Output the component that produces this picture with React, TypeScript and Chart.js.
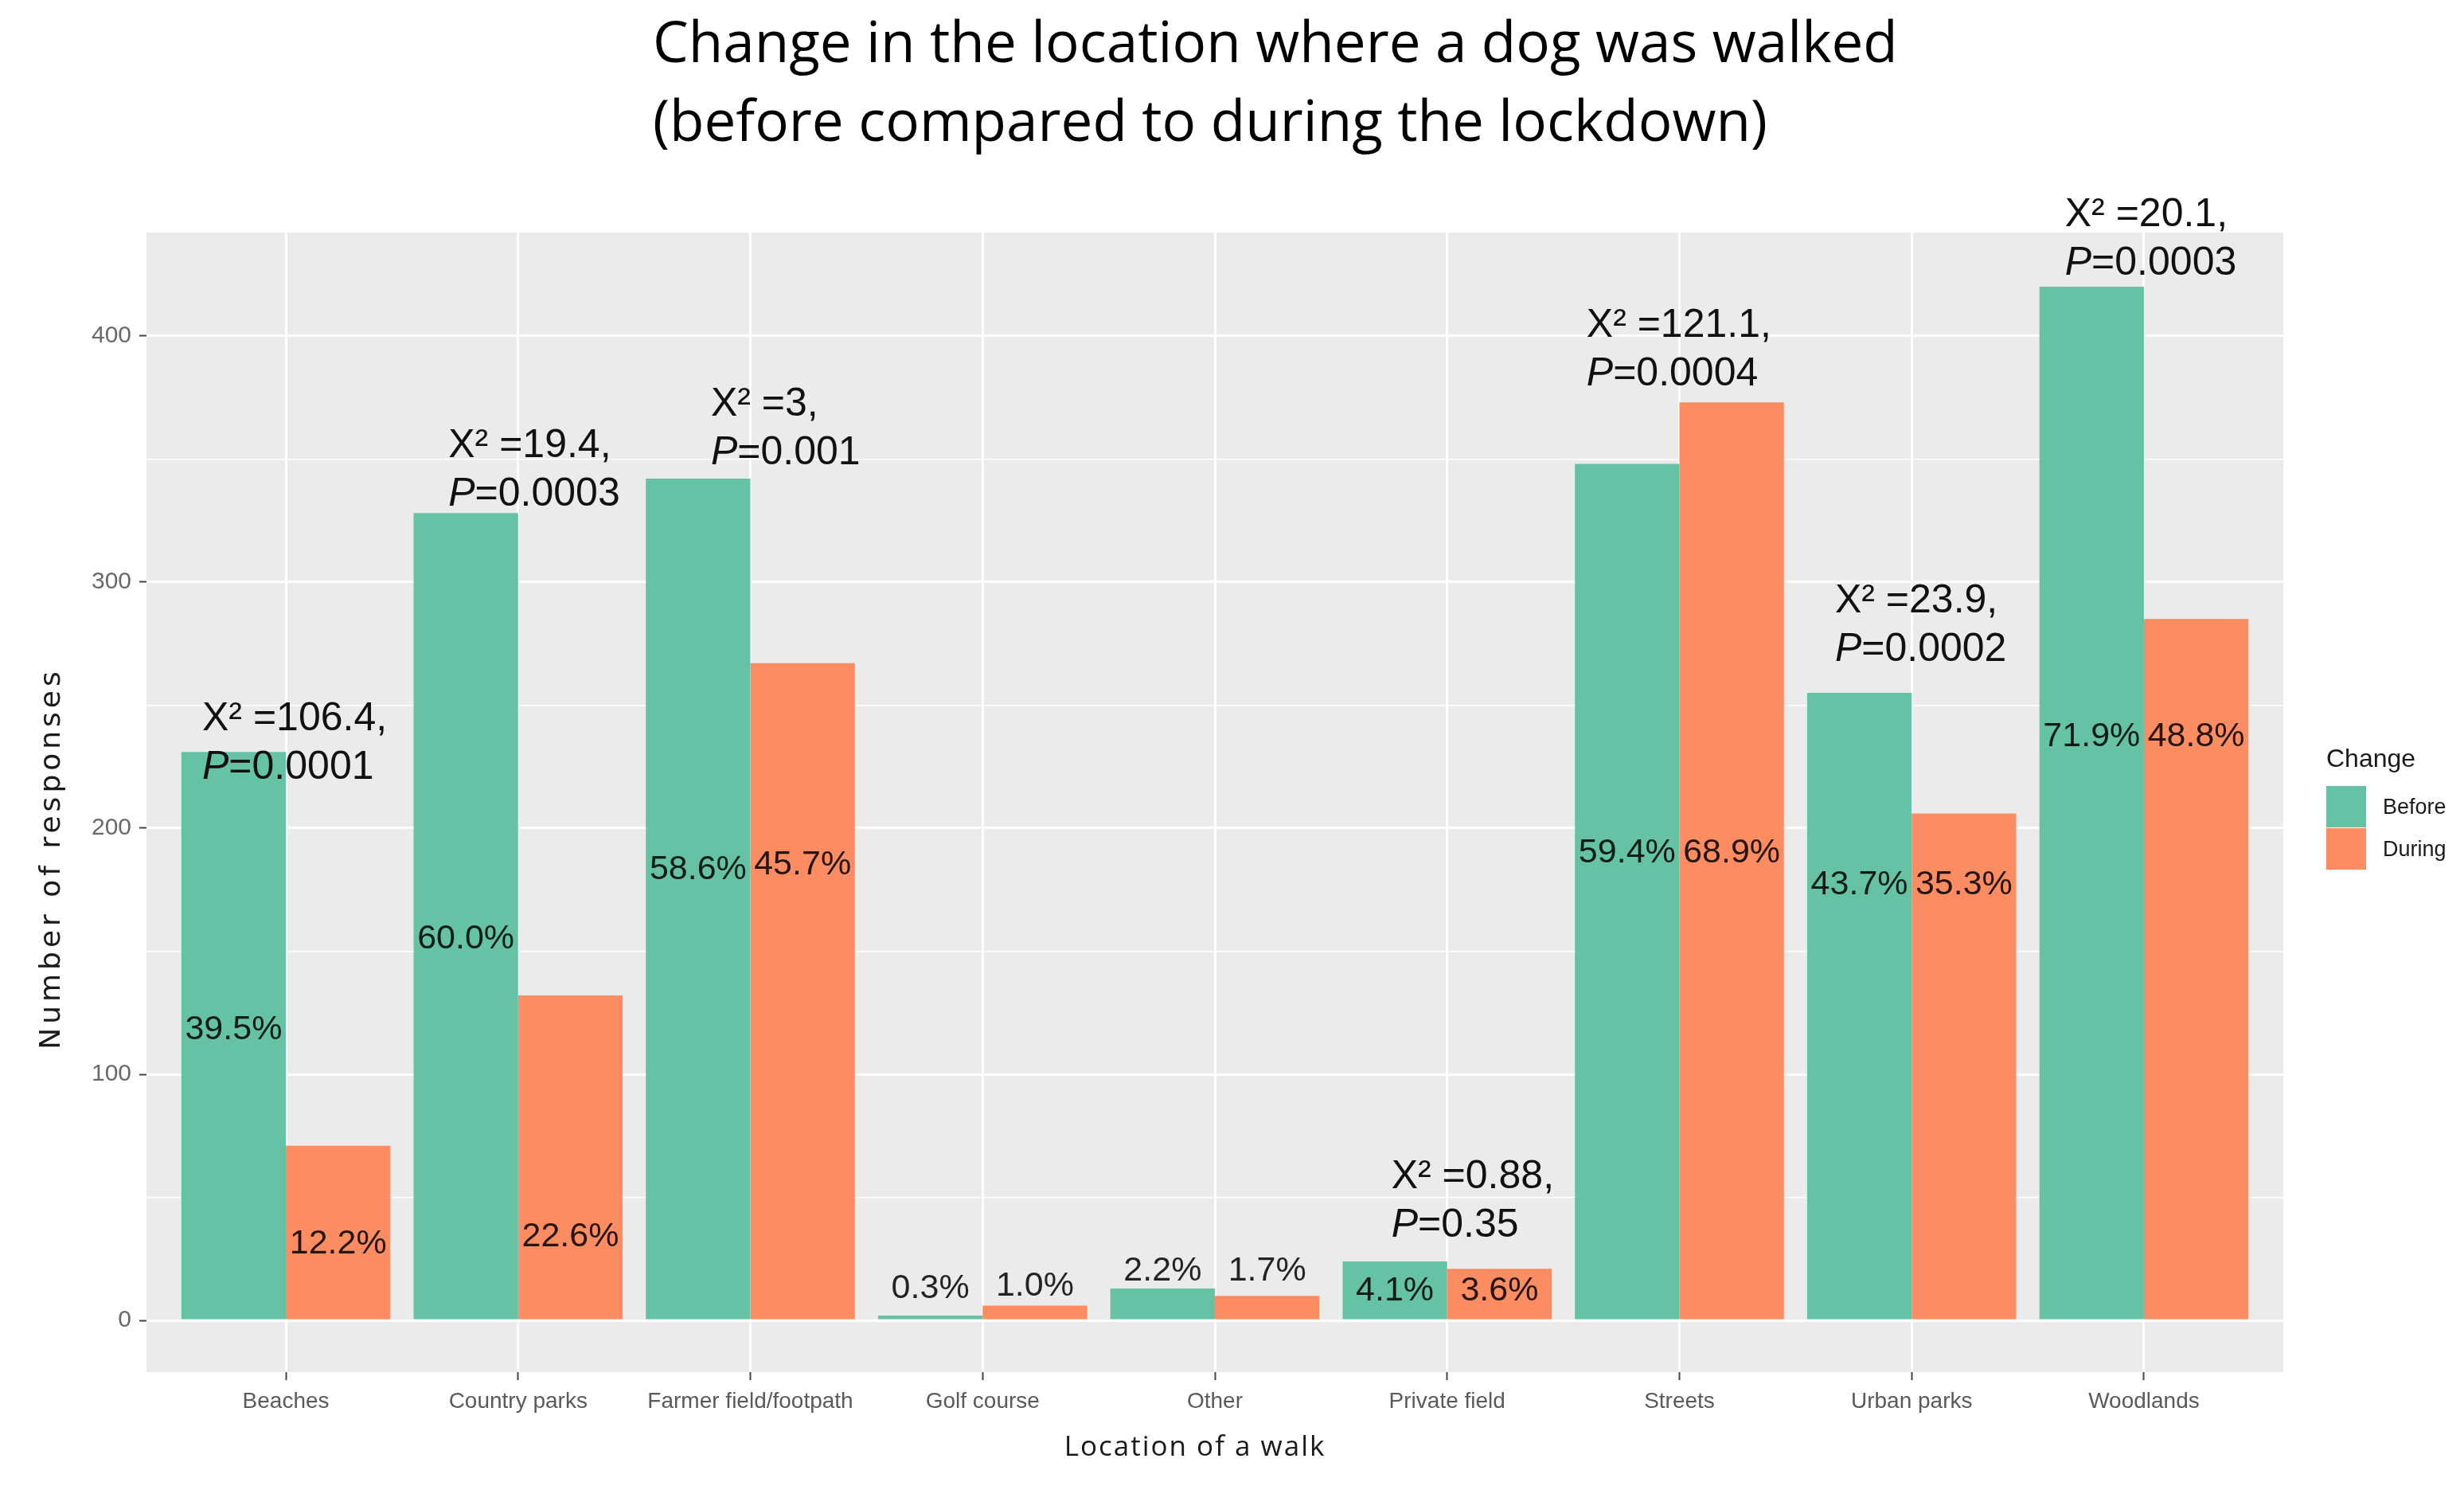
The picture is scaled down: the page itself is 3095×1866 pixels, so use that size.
import { useEffect, useRef } from 'react';
import { Chart, registerables } from 'chart.js';

Chart.register(...registerables);

const categories = [
  'Beaches',
  'Country parks',
  'Farmer field/footpath',
  'Golf course',
  'Other',
  'Private field',
  'Streets',
  'Urban parks',
  'Woodlands',
];

const seriesNames = ['Before', 'During'];
const beforeCounts = [231, 328, 342, 2, 13, 24, 348, 255, 420];
const duringCounts = [71, 132, 267, 6, 10, 21, 373, 206, 285];

const beforePct = ['39.5%', '60.0%', '58.6%', '0.3%', '2.2%', '4.1%', '59.4%', '43.7%', '71.9%'];
const duringPct = ['12.2%', '22.6%', '45.7%', '1.0%', '1.7%', '3.6%', '68.9%', '35.3%', '48.8%'];
// height (in responses) where each percentage label sits
const beforePctAt = [118, 155, 183, 13, 20, 12, 190, 177, 237];
const duringPctAt = [31, 34, 185, 14, 20, 12, 190, 177, 237];

const chiSquare = ['106.4', '19.4', '3', null, null, '0.88', '121.1', '23.9', '20.1'];
const pValues = ['0.0001', '0.0003', '0.001', null, null, '0.35', '0.0004', '0.0002', '0.0003'];
// baseline of the P line (in responses) and left shift (in categories)
const statAt = [220, 331, 348, null, null, 34, 380, 268, 425];
const statShift = [-0.36, -0.3, -0.17, 0, 0, -0.24, -0.4, -0.33, -0.34];

const yMajorTicks = [0, 100, 200, 300, 400];
const yMinorTicks = [50, 150, 250, 350];

const TEAL = '#66C2A5';
const ORANGE = '#FC8D62';

const W = 3095;
const H = 1866;

const annotations = {
  id: 'annotations',
  beforeDraw(chart: any) {
    const { ctx, chartArea: a } = chart;
    ctx.save();
    ctx.fillStyle = '#EBEBEB';
    ctx.fillRect(a.left, a.top, a.right - a.left, a.bottom - a.top);
    ctx.restore();
  },
  afterDatasetsDraw(chart: any) {
    const { ctx } = chart;
    const xs = chart.scales.x;
    const ys = chart.scales.y;
    ctx.save();

    // percentage labels
    ctx.font = '43px "Liberation Sans", Arial, sans-serif';
    ctx.fillStyle = 'rgba(0,0,0,0.85)';
    ctx.textAlign = 'center';
    ctx.textBaseline = 'middle';
    const pcts = [beforePct, duringPct];
    const pctAt = [beforePctAt, duringPctAt];
    [0, 1].forEach((d) => {
      const meta = chart.getDatasetMeta(d);
      meta.data.forEach((bar: any, i: number) => {
        ctx.fillText(pcts[d][i], bar.x, ys.getPixelForValue(pctAt[d][i]));
      });
    });

    // chi-square / P annotations
    ctx.textAlign = 'left';
    ctx.textBaseline = 'alphabetic';
    ctx.fillStyle = '#111';
    categories.forEach((_, i) => {
      if (chiSquare[i] == null) return;
      const x = xs.getPixelForValue(i + 1 + statShift[i]);
      const y = ys.getPixelForValue(statAt[i] as number);
      ctx.font = '50px "Liberation Sans", Arial, sans-serif';
      ctx.fillText(`X\u00B2 =${chiSquare[i]},`, x, y - 61);
      ctx.font = 'italic 50px "Liberation Sans", Arial, sans-serif';
      ctx.fillText('P', x, y);
      const pw = ctx.measureText('P').width;
      ctx.font = '50px "Liberation Sans", Arial, sans-serif';
      ctx.fillText(`=${pValues[i]}`, x + pw, y);
    });
    ctx.restore();
  },
  afterDraw(chart: any) {
    const { ctx } = chart;
    ctx.save();

    // title
    ctx.fillStyle = '#000';
    ctx.textAlign = 'left';
    ctx.textBaseline = 'alphabetic';
    ctx.font = '71px "Open Sans", sans-serif';
    ctx.fillText('Change in the location where a dog was walked', 820, 78);
    ctx.fillText('(before compared to during the lockdown)', 820, 177);

    // axis titles
    ctx.fillStyle = '#1a1a1a';
    ctx.font = '35px "Open Sans", sans-serif';
    (ctx as any).letterSpacing = '2px';
    ctx.textAlign = 'center';
    ctx.fillText('Location of a walk', 1501, 1828);

    ctx.save();
    ctx.translate(66, 1078);
    ctx.rotate(-Math.PI / 2);
    ctx.font = '36px "DejaVu Sans", sans-serif';
    (ctx as any).letterSpacing = '5px';
    ctx.textBaseline = 'middle';
    ctx.fillText('Number of responses', 0, 0);
    ctx.restore();
    (ctx as any).letterSpacing = '0px';

    // legend
    ctx.textAlign = 'left';
    ctx.textBaseline = 'alphabetic';
    ctx.fillStyle = '#1a1a1a';
    ctx.font = '32px "Liberation Sans", Arial, sans-serif';
    ctx.fillText('Change', 2922, 963);
    ctx.font = '27px "Liberation Sans", Arial, sans-serif';
    ctx.textBaseline = 'middle';
    chart.data.datasets.forEach((ds: any, k: number) => {
      const top = 987 + k * 53;
      ctx.fillStyle = ds.backgroundColor;
      ctx.fillRect(2922, top, 50, 52);
      ctx.fillStyle = '#1a1a1a';
      ctx.fillText(ds.label, 2993, top + 28);
    });
    ctx.restore();
  },
};

export default function App() {
  const canvasRef = useRef<HTMLCanvasElement>(null);
  const chartRef = useRef<Chart | null>(null);

  useEffect(() => {
    if (!canvasRef.current) return;
    if (chartRef.current) chartRef.current.destroy();

    const isMajor = (v: number) => yMajorTicks.includes(v);

    chartRef.current = new Chart(canvasRef.current, {
      type: 'bar',
      data: {
        datasets: [
          {
            label: seriesNames[0],
            data: beforeCounts.map((v, i) => ({ x: i + 1, y: v })),
            backgroundColor: TEAL,
            categoryPercentage: 0.9,
            barPercentage: 1,
            borderWidth: 0,
          },
          {
            label: seriesNames[1],
            data: duringCounts.map((v, i) => ({ x: i + 1, y: v })),
            backgroundColor: ORANGE,
            categoryPercentage: 0.9,
            barPercentage: 1,
            borderWidth: 0,
          },
        ],
      },
      options: {
        responsive: false,
        devicePixelRatio: 1,
        animation: false,
        layout: { padding: { top: 292, right: 227, left: 0, bottom: 0 } },
        plugins: {
          legend: { display: false },
          title: { display: false },
          tooltip: { enabled: false },
        },
        scales: {
          x: {
            type: 'linear',
            min: 0.4,
            max: 9.6,
            offset: false,
            bounds: 'data',
            afterBuildTicks: (s: any) => {
              s.ticks = categories.map((_, i) => ({ value: i + 1 }));
            },
            afterFit: (s: any) => {
              s.height = 143;
            },
            grid: {
              offset: false,
              color: '#ffffff',
              lineWidth: 3,
              tickColor: '#444',
              tickLength: 10,
              tickWidth: 2,
            },
            border: { display: false },
            ticks: {
              autoSkip: false,
              maxRotation: 0,
              padding: 10,
              color: '#5a5a5a',
              font: { family: '"Liberation Sans", Arial, sans-serif', size: 28 },
              callback: (v: any) => categories[Math.round(Number(v)) - 1] ?? '',
            },
          },
          y: {
            min: -21,
            max: 442,
            bounds: 'data',
            afterBuildTicks: (s: any) => {
              s.ticks = [...yMajorTicks, ...yMinorTicks].sort((a, b) => a - b).map((v) => ({ value: v }));
            },
            afterFit: (s: any) => {
              s.width = 184;
            },
            grid: {
              color: '#ffffff',
              lineWidth: (c: any) => (isMajor(c.tick?.value) ? 3 : 1.5),
              tickColor: (c: any) => (isMajor(c.tick?.value) ? '#444' : 'rgba(0,0,0,0)'),
              tickLength: 9,
              tickWidth: 2,
            },
            border: { display: false },
            ticks: {
              padding: 10,
              color: '#6a6a6a',
              font: { family: '"Liberation Sans", Arial, sans-serif', size: 30 },
              callback: (v: any) => (isMajor(Number(v)) ? String(v) : ''),
            },
          },
        },
      },
      plugins: [annotations],
    });

    return () => {
      if (chartRef.current) {
        chartRef.current.destroy();
        chartRef.current = null;
      }
    };
  }, []);

  return (
    <div style={{ position: 'absolute', left: 0, top: 0, width: W, height: H, background: '#fff' }}>
      <canvas ref={canvasRef} width={W} height={H} style={{ display: 'block' }} />
    </div>
  );
}
